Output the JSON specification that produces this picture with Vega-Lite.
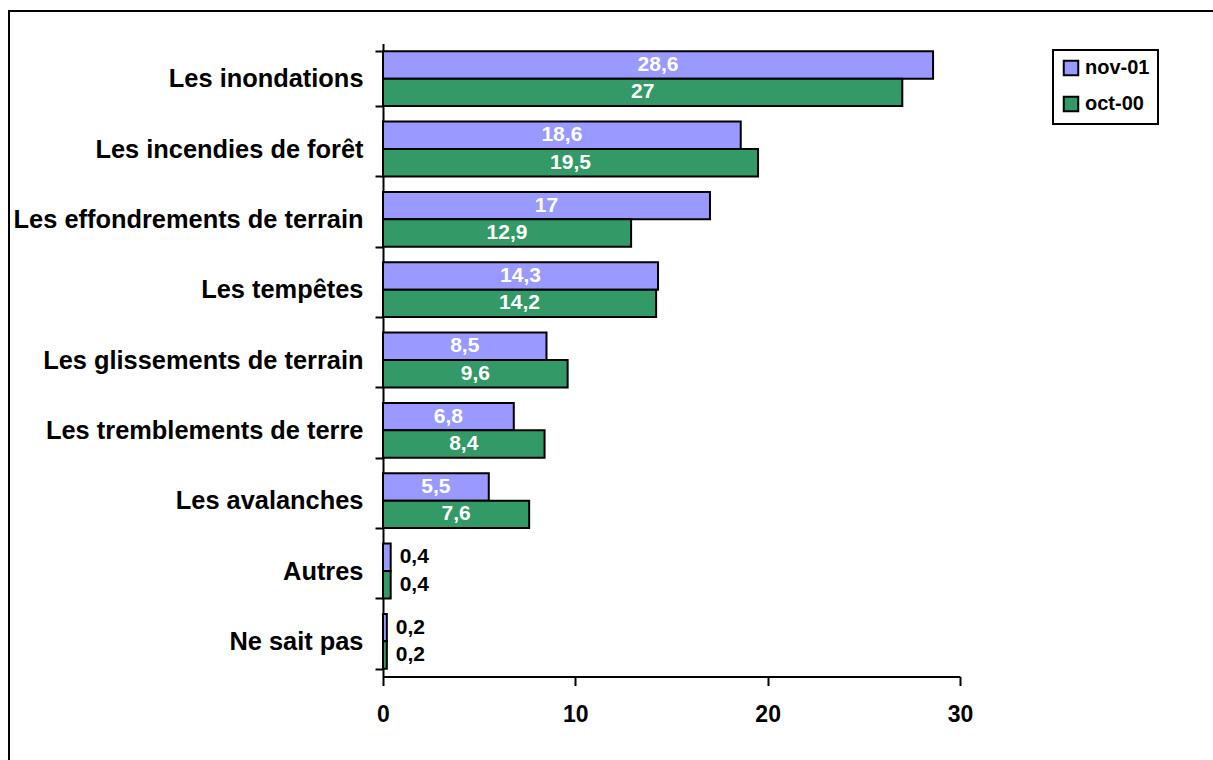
{
  "$schema": "https://vega.github.io/schema/vega-lite/v6.json",
  "autosize": {"type": "none"},
  "padding": {"left": 9, "top": 11, "right": 0, "bottom": 0},
  "width": 1214,
  "height": 760,
  "background": "white",
  "config": {
    "view": {"stroke": "black", "strokeWidth": 2},
    "font": "Liberation Sans"
  },
  "data": {
    "values": [
      {"cat": "Les inondations", "period": "nov-01", "value": 28.6, "label": "28,6"},
      {"cat": "Les inondations", "period": "oct-00", "value": 27, "label": "27"},
      {"cat": "Les incendies de forêt", "period": "nov-01", "value": 18.6, "label": "18,6"},
      {"cat": "Les incendies de forêt", "period": "oct-00", "value": 19.5, "label": "19,5"},
      {"cat": "Les effondrements de terrain", "period": "nov-01", "value": 17, "label": "17"},
      {"cat": "Les effondrements de terrain", "period": "oct-00", "value": 12.9, "label": "12,9"},
      {"cat": "Les tempêtes", "period": "nov-01", "value": 14.3, "label": "14,3"},
      {"cat": "Les tempêtes", "period": "oct-00", "value": 14.2, "label": "14,2"},
      {"cat": "Les glissements de terrain", "period": "nov-01", "value": 8.5, "label": "8,5"},
      {"cat": "Les glissements de terrain", "period": "oct-00", "value": 9.6, "label": "9,6"},
      {"cat": "Les tremblements de terre", "period": "nov-01", "value": 6.8, "label": "6,8"},
      {"cat": "Les tremblements de terre", "period": "oct-00", "value": 8.4, "label": "8,4"},
      {"cat": "Les avalanches", "period": "nov-01", "value": 5.5, "label": "5,5"},
      {"cat": "Les avalanches", "period": "oct-00", "value": 7.6, "label": "7,6"},
      {"cat": "Autres", "period": "nov-01", "value": 0.4, "label": "0,4"},
      {"cat": "Autres", "period": "oct-00", "value": 0.4, "label": "0,4"},
      {"cat": "Ne sait pas", "period": "nov-01", "value": 0.2, "label": "0,2"},
      {"cat": "Ne sait pas", "period": "oct-00", "value": 0.2, "label": "0,2"}
    ]
  },
  "encoding": {
    "y": {
      "field": "cat",
      "type": "nominal",
      "sort": null,
      "scale": {"range": [32.5, 665.5], "paddingInner": 0.22, "paddingOuter": 0.11},
      "axis": {
        "title": null,
        "orient": "left",
        "offset": -374,
        "tickBand": "extent",
        "tickSize": 8,
        "tickWidth": 2,
        "tickColor": "black",
        "domainWidth": 2,
        "domainColor": "black",
        "labelFontSize": 25.4,
        "labelFontWeight": "bold",
        "labelColor": "black",
        "labelPadding": 12,
        "labelLimit": 0,
        "labelAngle": 0
      }
    },
    "yOffset": {"field": "period", "type": "nominal", "sort": ["nov-01", "oct-00"]},
    "x": {
      "field": "value",
      "type": "quantitative",
      "scale": {"domain": [0, 30], "range": [374, 951], "nice": false, "zero": true},
      "axis": {
        "title": null,
        "orient": "bottom",
        "offset": -94.5,
        "values": [0, 10, 20, 30],
        "grid": false,
        "labelFlush": false,
        "tickSize": 9,
        "tickWidth": 2,
        "tickColor": "black",
        "domainWidth": 2,
        "domainColor": "black",
        "labelFontSize": 23,
        "labelFontWeight": "bold",
        "labelColor": "black",
        "labelPadding": 18
      }
    }
  },
  "layer": [
    {
      "mark": {"type": "bar", "stroke": "black", "strokeWidth": 2, "opacity": 1},
      "encoding": {
        "color": {
          "field": "period",
          "type": "nominal",
          "scale": {"domain": ["nov-01", "oct-00"], "range": ["#9999FF", "#339966"]},
          "legend": {
            "orient": "none",
            "legendX": 1044,
            "legendY": 39,
            "title": null,
            "symbolType": "square",
            "symbolSize": 210,
            "symbolStrokeColor": "black",
            "symbolStrokeWidth": 2,
            "symbolOpacity": 1,
            "labelFontSize": 20,
            "labelFontWeight": "bold",
            "labelColor": "black",
            "labelOffset": 4,
            "strokeColor": "black",
            "fillColor": "white",
            "padding": 8,
            "rowPadding": 12,
            "encode": {"legend": {"update": {"strokeWidth": {"value": 2}}}}
          }
        }
      }
    },
    {
      "transform": [
        {"filter": "datum.value >= 1"},
        {"calculate": "datum.value / 2", "as": "mid"}
      ],
      "mark": {"type": "text", "color": "white", "fontSize": 21, "fontWeight": "bold", "align": "center", "baseline": "middle"},
      "encoding": {
        "x": {"field": "mid", "type": "quantitative"},
        "text": {"field": "label"}
      }
    },
    {
      "transform": [{"filter": "datum.value < 1"}],
      "mark": {"type": "text", "color": "black", "fontSize": 21, "fontWeight": "bold", "align": "left", "baseline": "middle", "dx": 9},
      "encoding": {
        "text": {"field": "label"}
      }
    }
  ]
}
